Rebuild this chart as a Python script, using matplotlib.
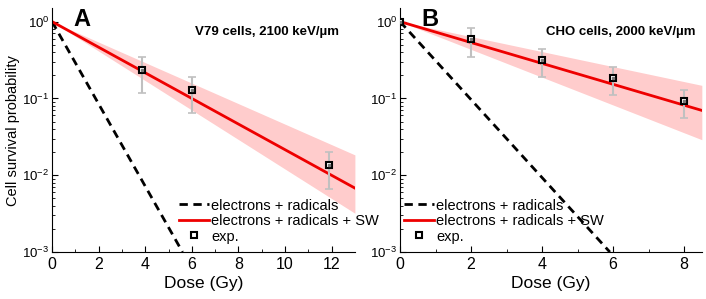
import numpy as np
import matplotlib.pyplot as plt

plt.rcParams['font.family'] = ['Liberation Sans', 'DejaVu Sans']
plt.rcParams['mathtext.fontset'] = 'custom'
plt.rcParams['mathtext.rm'] = 'Liberation Sans'
plt.rcParams['mathtext.it'] = 'Liberation Sans:italic'

# panel A: V79 cells
a_dose_er = [0, 5.6]
a_surv_er = [1.0, 1e-3]
a_dose_sw = [0, 13]
a_surv_sw = [1.0, 0.0068]
a_band_lo = [1.0, 0.0032]
a_band_hi = [1.0, 0.0184]
a_exp_dose = [3.85, 6.0, 11.9]
a_exp_surv = [0.232, 0.128, 0.0135]
a_exp_lo = [0.116, 0.064, 0.0067]
a_exp_hi = [0.35, 0.19, 0.0202]

# panel B: CHO cells
b_dose_er = [0, 5.91]
b_surv_er = [1.0, 1e-3]
b_dose_sw = [0, 8.5]
b_surv_sw = [1.0, 0.0698]
b_band_lo = [1.0, 0.029]
b_band_hi = [1.0, 0.148]
b_exp_dose = [0, 2.0, 4.0, 6.0, 8.0]
b_exp_surv = [1.0, 0.589, 0.319, 0.184, 0.092]
b_exp_lo = [1.0, 0.35, 0.19, 0.11, 0.055]
b_exp_hi = [1.0, 0.818, 0.445, 0.257, 0.128]


def draw_panel(ax, d_er, s_er, d_sw, s_sw, lo, hi, ed, es, elo, ehi, xmax, xticks, letter, note, leg_pos):
    ax.fill_between(d_sw, lo, hi, color='#ffcccc', lw=0)
    ax.plot(d_er, s_er, color='black', ls=(0, (3, 2)), lw=2, label='electrons + radicals')
    ax.plot(d_sw, s_sw, color='#ee0000', lw=2, label='electrons + radicals + SW')
    es = np.array(es)
    yerr = [es - np.array(elo), np.array(ehi) - es]
    ax.errorbar(ed, es, yerr=yerr, fmt='none', ecolor='#c0c0c0', elinewidth=1.5, capsize=3, capthick=1.2, zorder=3)
    ax.plot(ed, es, ls='none', marker='s', ms=5, mfc='white', mec='black', mew=1.5, zorder=4, label='exp.')
    ax.plot(ed, es, ls='none', marker='s', ms=1.5, mfc='#777777', mec='#777777', zorder=5)
    ax.set_yscale('log')
    ax.set_ylim(1e-3, 1.5)
    ax.set_xlim(0, xmax)
    ax.set_xticks(xticks)
    ax.set_xticks(np.arange(1, xmax, 2), minor=True)
    for s in ['top', 'right']:
        ax.spines[s].set_visible(False)
    ax.tick_params(which='both', direction='in')
    ax.tick_params(axis='x', labelsize=11.5)
    ax.tick_params(axis='y', labelsize=9.5, pad=2)
    ax.tick_params(which='major', length=4)
    ax.tick_params(which='minor', length=2)
    ax.set_xlabel('Dose (Gy)', fontsize=12.5, labelpad=3)
    ax.text(0.10, 1.0, letter, transform=ax.transAxes, fontsize=17, fontweight='bold', ha='center', va='top')
    ax.text(leg_pos[2], 0.90, note, transform=ax.transAxes, fontsize=9.5, fontweight='bold', ha='center', va='center')
    ax.legend(loc='lower left', bbox_to_anchor=(leg_pos[0], leg_pos[1]), frameon=False, fontsize=10.5,
              handlelength=2.05, handletextpad=0.15, labelspacing=0.1, borderpad=0, borderaxespad=0)


fig = plt.figure(figsize=(7.06, 2.99), dpi=100)
ax1 = fig.add_axes([0.0737, 0.157, 0.429, 0.816])
ax2 = fig.add_axes([0.5666, 0.157, 0.4275, 0.816])

draw_panel(ax1, a_dose_er, a_surv_er, a_dose_sw, a_surv_sw, a_band_lo, a_band_hi,
           a_exp_dose, a_exp_surv, a_exp_lo, a_exp_hi, 13, [0, 2, 4, 6, 8, 10, 12],
           'A', 'V79 cells, 2100 keV/µm', (0.42, 0.035, 0.71))
draw_panel(ax2, b_dose_er, b_surv_er, b_dose_sw, b_surv_sw, b_band_lo, b_band_hi,
           b_exp_dose, b_exp_surv, b_exp_lo, b_exp_hi, 8.5, [0, 2, 4, 6, 8],
           'B', 'CHO cells, 2000 keV/µm', (0.013, 0.035, 0.73))
ax1.set_ylabel('Cell survival probability', fontsize=10.5, labelpad=1.5)

fig.savefig('out.png', dpi=100)
